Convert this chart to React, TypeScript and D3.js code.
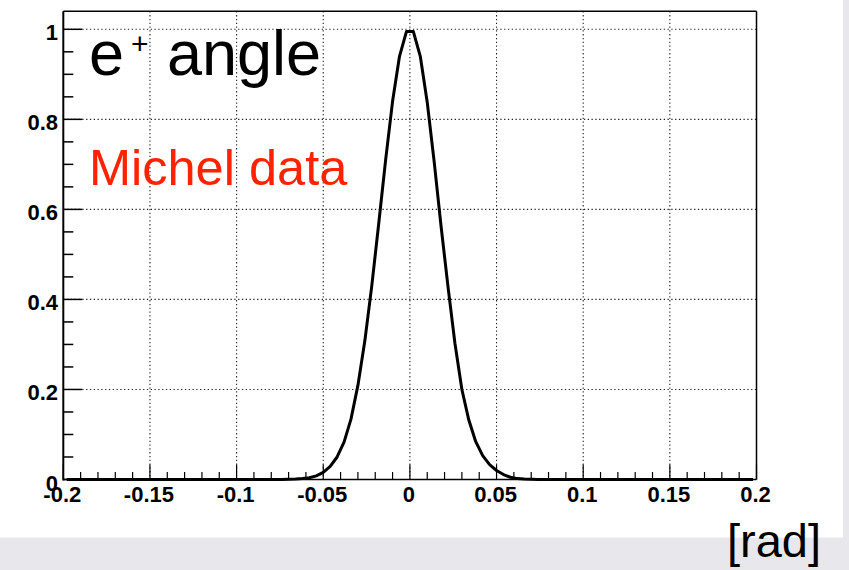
import React from "react";
import * as d3 from "d3";

// ---- data ----
const binLow = -0.2;
const binWidth = 0.004;
// normalized counts per bin (100 bins from -0.2 to 0.2)
const counts = [
  0, 0, 0, 0, 0, 0, 0, 0, 0, 0,
  0, 0, 0, 0, 0, 0, 0, 0, 0, 0,
  0, 0, 0, 0, 0, 0, 0, 0, 0, 0,
  0, 0,
  0.0005, 0.001, 0.002, 0.004, 0.008, 0.016, 0.029, 0.05, 0.083, 0.134,
  0.209, 0.308, 0.43, 0.568, 0.71, 0.84, 0.94, 0.995,
  0.995, 0.94, 0.838, 0.706, 0.562, 0.428, 0.302, 0.2, 0.132, 0.084,
  0.053, 0.033, 0.02, 0.011, 0.005, 0.002, 0.001, 0.0005,
  0, 0, 0, 0, 0, 0, 0, 0, 0, 0,
  0, 0, 0, 0, 0, 0, 0, 0, 0, 0,
  0, 0, 0, 0, 0, 0, 0, 0, 0, 0,
  0, 0,
];
const xMajorTicks = [-0.2, -0.15, -0.1, -0.05, 0, 0.05, 0.1, 0.15, 0.2];
const xTickLabels = ["-0.2", "-0.15", "-0.1", "-0.05", "0", "0.05", "0.1", "0.15", "0.2"];
const yMajorTicks = [0, 0.2, 0.4, 0.6, 0.8, 1];
const yTickLabels = ["0", "0.2", "0.4", "0.6", "0.8", "1"];
const titleText = "angle";
const subtitleText = "Michel data";
const unitText = "[rad]";

const FONT = "'Liberation Sans', Arial, Helvetica, sans-serif";

export default function App() {
  const W = 849;
  const H = 570;
  const left = 63.3;
  const right = 756.5;
  const top = 11.3;
  const bottom = 479.5;

  const x = d3.scaleLinear().domain([-0.2, 0.2]).range([left, right]);
  const y = d3.scaleLinear().domain([0, 1.04]).range([bottom, top]);

  const points: [number, number][] = counts.map((c, i) => [binLow + binWidth * (i + 0.5), c]);
  const line = d3
    .line<[number, number]>()
    .x((d) => x(d[0]))
    .y((d) => y(d[1]))
    .curve(d3.curveLinear);

  const xMinor = d3.range(0, 41).map((i) => -0.2 + i * 0.01);
  const yMinor = d3.range(0, 21).map((i) => i * 0.05);

  const gridDash = "1.3,2.5";

  return (
    <svg
      width={W}
      height={H}
      style={{ position: "absolute", left: 0, top: 0 }}
      xmlns="http://www.w3.org/2000/svg"
    >
      <rect x={0} y={0} width={W} height={H} fill="#e8e8ec" />
      <rect x={0} y={0} width={843} height={537.5} fill="#ffffff" />

      {/* grid */}
      {xMajorTicks.slice(1, -1).map((v) => (
        <line
          key={"gx" + v}
          x1={x(v)}
          x2={x(v)}
          y1={top}
          y2={bottom}
          stroke="#222"
          strokeWidth={1.1}
          strokeDasharray={gridDash}
        />
      ))}
      {yMajorTicks.slice(1).map((v) => (
        <line
          key={"gy" + v}
          x1={left}
          x2={right}
          y1={y(v)}
          y2={y(v)}
          stroke="#222"
          strokeWidth={1.1}
          strokeDasharray={gridDash}
        />
      ))}

      {/* frame */}
      <line x1={left} x2={right} y1={top} y2={top} stroke="#000" strokeWidth={1.5} />
      <line x1={right} x2={right} y1={top} y2={bottom} stroke="#000" strokeWidth={1.5} />
      <line x1={left} x2={left} y1={top} y2={bottom + 1} stroke="#000" strokeWidth={2} />
      <line x1={left} x2={right} y1={bottom} y2={bottom} stroke="#000" strokeWidth={1.5} />

      {/* x ticks */}
      {xMinor.map((v, i) => (
        <line
          key={"xt" + i}
          x1={x(v)}
          x2={x(v)}
          y1={bottom}
          y2={bottom - (i % 5 === 0 ? 15 : 7.5)}
          stroke="#000"
          strokeWidth={1.2}
        />
      ))}
      {/* y ticks */}
      {yMinor.map((v, i) => (
        <line
          key={"yt" + i}
          x1={left}
          x2={left + (i % 4 === 0 ? 19 : 10)}
          y1={y(v)}
          y2={y(v)}
          stroke="#000"
          strokeWidth={1.5}
        />
      ))}

      {/* curve */}
      <path d={line(points) || ""} fill="none" stroke="#000" strokeWidth={3} strokeLinejoin="round" />

      {/* tick labels */}
      {xMajorTicks.map((v, i) => (
        <text
          key={"xl" + i}
          x={x(v) - 1}
          y={501.5}
          textAnchor="middle"
          fontFamily={FONT}
          fontWeight="bold"
          fontSize={22}
          fill="#000"
        >
          {xTickLabels[i]}
        </text>
      ))}
      {yMajorTicks.map((v, i) => (
        <text
          key={"yl" + i}
          x={58}
          y={y(v) + 11}
          textAnchor="end"
          fontFamily={FONT}
          fontWeight="bold"
          fontSize={22}
          fill="#000"
        >
          {yTickLabels[i]}
        </text>
      ))}

      {/* title */}
      <text x={89} y={75} fontFamily={FONT} fontSize={63} fill="#000">
        e
      </text>
      <text x={131} y={54} fontFamily={FONT} fontSize={30} fill="#000">
        +
      </text>
      <text x={167} y={75} fontFamily={FONT} fontSize={63} fill="#000">
        {titleText}
      </text>

      <text x={89} y={185} fontFamily={FONT} fontSize={50.5} fill="#ff2200">
        {subtitleText}
      </text>

      <text x={727} y={557} fontFamily={FONT} fontSize={47} fill="#000">
        {unitText}
      </text>
    </svg>
  );
}
